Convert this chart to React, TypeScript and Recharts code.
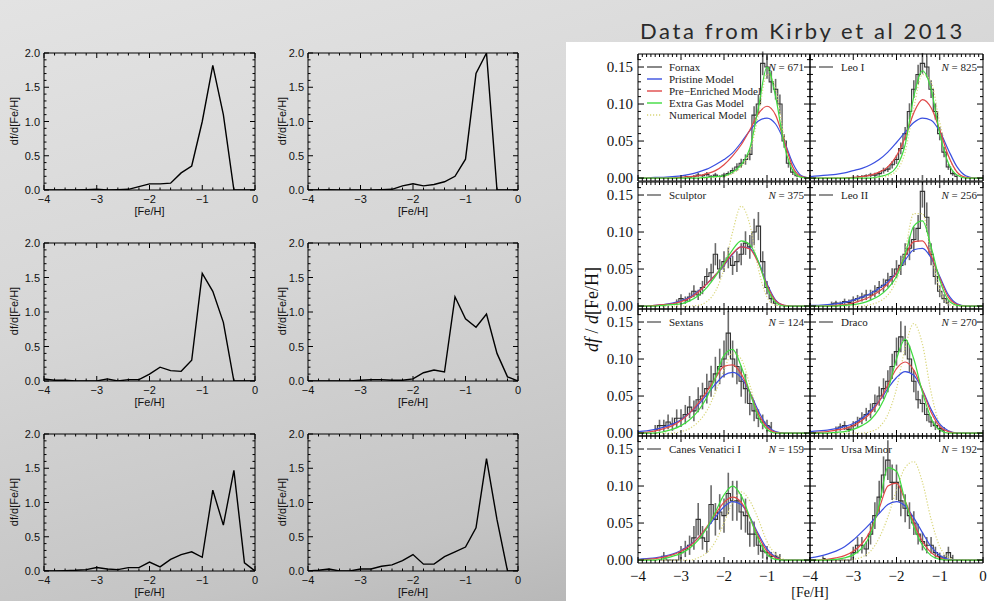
import React from 'react';
import { ComposedChart, Line, XAxis, YAxis, ErrorBar } from 'recharts';

// [Fe/H] grid shared by the simulated runs and the model curves
const FEH = [-4.0, -3.8, -3.6, -3.4, -3.2, -3.0, -2.8, -2.6, -2.4, -2.2, -2.0, -1.8, -1.6, -1.4, -1.2, -1.0, -0.8, -0.6, -0.4, -0.2, 0.0];

// left: six simulated MDFs
const RUN_1 = [0, 0, 0, 0, 0.005, 0.01, 0, 0.005, 0.01, 0.05, 0.09, 0.09, 0.1, 0.25, 0.35, 1.0, 1.82, 1.1, 0, 0, 0];
const RUN_2 = [0, 0, 0.005, 0, 0, 0, 0, 0.005, 0.01, 0.06, 0.09, 0.06, 0.08, 0.12, 0.2, 0.45, 1.7, 2.0, 0, 0, 0];
const RUN_3 = [0.03, 0.01, 0.01, 0, 0, 0, 0.03, 0, 0.02, 0.02, 0.1, 0.2, 0.15, 0.14, 0.3, 1.56, 1.3, 0.85, 0, 0, 0];
const RUN_4 = [0, 0, 0, 0, 0, 0.01, 0.02, 0.02, 0.01, 0.01, 0.03, 0.12, 0.16, 0.13, 1.22, 0.9, 0.78, 0.97, 0.4, 0.06, 0];
const RUN_5 = [0, 0, 0.005, 0.01, 0.02, 0.05, 0.03, 0.02, 0.05, 0.05, 0.13, 0.06, 0.17, 0.24, 0.28, 0.2, 1.18, 0.67, 1.47, 0.12, 0];
const RUN_6 = [0, 0.01, 0.03, 0, 0, 0.03, 0.03, 0.07, 0.09, 0.15, 0.24, 0.1, 0.1, 0.21, 0.28, 0.35, 0.63, 1.64, 0.75, 0, 0];
const RUNS = [RUN_1, RUN_2, RUN_3, RUN_4, RUN_5, RUN_6];

// right: Kirby et al. 2013 dwarfs
const DWARFS = ['Fornax', 'Leo I', 'Sculptor', 'Leo II', 'Sextans', 'Draco', 'Canes Venatici I', 'Ursa Minor'];
const DWARF_N = [671, 825, 375, 256, 124, 270, 159, 192];
const HIST_START = [-2.9, -2.9, -3.1, -3.5, -3.6, -3.4, -3.5, -3.7];
const HIST = [
  [0.002, 0.001, 0.002, 0.004, 0.003, 0.005, 0.002, 0.004, 0.002, 0.004, 0.006, 0.01, 0.015, 0.02, 0.025, 0.032, 0.085, 0.1, 0.155, 0.15, 0.13, 0.12, 0.1, 0.05, 0.02, 0.008, 0.003],
  [0.002, 0.002, 0.003, 0.004, 0.004, 0.006, 0.01, 0.012, 0.018, 0.025, 0.04, 0.06, 0.09, 0.12, 0.14, 0.155, 0.15, 0.12, 0.09, 0.06, 0.035, 0.015, 0.006, 0.002],
  [0.005, 0.01, 0.008, 0.012, 0.02, 0.015, 0.025, 0.04, 0.045, 0.07, 0.05, 0.06, 0.065, 0.055, 0.06, 0.07, 0.085, 0.08, 0.1, 0.108, 0.06, 0.025, 0.01, 0.004],
  [0.003, 0.004, 0.003, 0.006, 0.005, 0.008, 0.01, 0.012, 0.015, 0.015, 0.02, 0.025, 0.028, 0.035, 0.04, 0.05, 0.055, 0.07, 0.078, 0.09, 0.105, 0.155, 0.12, 0.07, 0.04, 0.02, 0.01, 0.004],
  [0.005, 0.01, 0.01, 0.015, 0.012, 0.02, 0.02, 0.025, 0.035, 0.03, 0.045, 0.05, 0.06, 0.07, 0.08, 0.09, 0.1, 0.135, 0.1, 0.09, 0.07, 0.06, 0.04, 0.03, 0.02, 0.015, 0.01, 0.008],
  [0.005, 0.008, 0.01, 0.005, 0.01, 0.015, 0.02, 0.025, 0.03, 0.04, 0.05, 0.06, 0.07, 0.09, 0.11, 0.13, 0.125, 0.1, 0.07, 0.045, 0.04, 0.025, 0.015, 0.01, 0.006, 0.004],
  [0, 0.005, 0, 0, 0, 0.01, 0.015, 0.02, 0.03, 0.055, 0.03, 0.025, 0.075, 0.055, 0.065, 0.06, 0.09, 0.08, 0.08, 0.065, 0.06, 0.035, 0.035, 0.02, 0.012, 0.01, 0.005, 0.005, 0.003],
  [0.002, 0, 0, 0, 0, 0, 0, 0.01, 0.02, 0.02, 0.015, 0.035, 0.06, 0.085, 0.115, 0.135, 0.105, 0.105, 0.08, 0.07, 0.06, 0.05, 0.035, 0.025, 0.02, 0.02, 0.01, 0.005, 0.003, 0.01, 0.003],
];
const HIST_ERR = [
  [0.002, 0.001, 0.002, 0.003, 0.002, 0.003, 0.002, 0.003, 0.002, 0.003, 0.003, 0.004, 0.005, 0.006, 0.007, 0.008, 0.012, 0.013, 0.016, 0.016, 0.015, 0.014, 0.013, 0.009, 0.006, 0.004, 0.002],
  [0.002, 0.002, 0.002, 0.003, 0.003, 0.003, 0.004, 0.004, 0.005, 0.006, 0.008, 0.009, 0.011, 0.012, 0.013, 0.014, 0.014, 0.012, 0.011, 0.009, 0.007, 0.004, 0.003, 0.002],
  [0.004, 0.006, 0.005, 0.006, 0.008, 0.007, 0.009, 0.011, 0.012, 0.015, 0.013, 0.014, 0.014, 0.013, 0.014, 0.015, 0.016, 0.016, 0.018, 0.019, 0.014, 0.009, 0.006, 0.004],
  [0.003, 0.003, 0.003, 0.004, 0.004, 0.005, 0.005, 0.006, 0.007, 0.007, 0.008, 0.009, 0.009, 0.01, 0.011, 0.012, 0.013, 0.015, 0.016, 0.017, 0.018, 0.022, 0.02, 0.015, 0.011, 0.008, 0.006, 0.004],
  [0.006, 0.008, 0.008, 0.01, 0.009, 0.012, 0.012, 0.013, 0.015, 0.014, 0.017, 0.018, 0.02, 0.021, 0.023, 0.024, 0.025, 0.03, 0.025, 0.024, 0.021, 0.02, 0.016, 0.014, 0.012, 0.01, 0.008, 0.007],
  [0.004, 0.005, 0.006, 0.004, 0.006, 0.007, 0.008, 0.009, 0.01, 0.012, 0.013, 0.014, 0.015, 0.017, 0.019, 0.021, 0.02, 0.018, 0.015, 0.012, 0.012, 0.009, 0.007, 0.006, 0.005, 0.004],
  [0, 0.006, 0, 0, 0, 0.009, 0.011, 0.013, 0.016, 0.022, 0.016, 0.015, 0.026, 0.022, 0.024, 0.023, 0.028, 0.027, 0.027, 0.024, 0.023, 0.017, 0.017, 0.013, 0.01, 0.009, 0.006, 0.006, 0.005],
  [0.003, 0, 0, 0, 0, 0, 0, 0.008, 0.011, 0.011, 0.01, 0.014, 0.018, 0.022, 0.025, 0.027, 0.024, 0.024, 0.021, 0.019, 0.018, 0.016, 0.014, 0.012, 0.011, 0.011, 0.008, 0.005, 0.004, 0.008, 0.004],
];
const PRISTINE = [
  [0, 0, 0.001, 0.001, 0.002, 0.003, 0.005, 0.008, 0.012, 0.018, 0.025, 0.034, 0.048, 0.064, 0.077, 0.081, 0.073, 0.05, 0.02, 0.003, 0],
  [0.002, 0.003, 0.004, 0.005, 0.007, 0.01, 0.013, 0.018, 0.025, 0.035, 0.048, 0.062, 0.075, 0.081, 0.078, 0.063, 0.038, 0.015, 0.003, 0, 0],
  [0, 0, 0.001, 0.002, 0.004, 0.007, 0.012, 0.02, 0.03, 0.042, 0.055, 0.07, 0.08, 0.078, 0.06, 0.03, 0.008, 0.001, 0, 0, 0],
  [0.001, 0.001, 0.002, 0.003, 0.005, 0.008, 0.012, 0.017, 0.024, 0.033, 0.045, 0.062, 0.076, 0.078, 0.065, 0.04, 0.015, 0.003, 0, 0, 0],
  [0.002, 0.003, 0.005, 0.008, 0.012, 0.018, 0.027, 0.038, 0.052, 0.066, 0.078, 0.082, 0.075, 0.055, 0.03, 0.01, 0.002, 0, 0, 0, 0],
  [0.002, 0.003, 0.004, 0.006, 0.009, 0.013, 0.02, 0.03, 0.043, 0.06, 0.075, 0.083, 0.078, 0.058, 0.032, 0.012, 0.003, 0, 0, 0, 0],
  [0.001, 0.002, 0.003, 0.005, 0.008, 0.013, 0.02, 0.03, 0.043, 0.058, 0.072, 0.079, 0.075, 0.058, 0.035, 0.015, 0.004, 0, 0, 0, 0],
  [0.003, 0.005, 0.008, 0.012, 0.018, 0.027, 0.038, 0.05, 0.063, 0.075, 0.079, 0.073, 0.057, 0.037, 0.018, 0.006, 0.001, 0, 0, 0, 0],
];
const PRE_ENRICHED = [
  [0, 0, 0, 0, 0, 0.001, 0.002, 0.003, 0.006, 0.01, 0.018, 0.03, 0.045, 0.065, 0.087, 0.097, 0.085, 0.05, 0.015, 0.002, 0],
  [0, 0, 0, 0, 0, 0.001, 0.002, 0.004, 0.008, 0.015, 0.03, 0.055, 0.088, 0.106, 0.095, 0.065, 0.03, 0.008, 0.001, 0, 0],
  [0, 0, 0.001, 0.002, 0.003, 0.006, 0.011, 0.019, 0.03, 0.042, 0.056, 0.071, 0.08, 0.077, 0.058, 0.028, 0.007, 0.001, 0, 0, 0],
  [0, 0, 0, 0.001, 0.002, 0.004, 0.008, 0.013, 0.02, 0.03, 0.045, 0.067, 0.087, 0.088, 0.068, 0.038, 0.012, 0.002, 0, 0, 0],
  [0, 0.001, 0.003, 0.006, 0.01, 0.017, 0.027, 0.04, 0.056, 0.074, 0.09, 0.092, 0.08, 0.055, 0.026, 0.008, 0.001, 0, 0, 0, 0],
  [0, 0.001, 0.002, 0.004, 0.006, 0.01, 0.017, 0.027, 0.043, 0.065, 0.087, 0.096, 0.085, 0.058, 0.028, 0.009, 0.002, 0, 0, 0, 0],
  [0, 0.001, 0.002, 0.004, 0.007, 0.012, 0.019, 0.03, 0.045, 0.062, 0.078, 0.085, 0.078, 0.057, 0.032, 0.012, 0.003, 0, 0, 0, 0],
  [0, 0, 0.001, 0.003, 0.006, 0.012, 0.022, 0.04, 0.07, 0.1, 0.104, 0.08, 0.05, 0.025, 0.01, 0.003, 0, 0, 0, 0, 0],
];
const EXTRA_GAS = [
  [0, 0, 0, 0, 0, 0, 0, 0, 0.001, 0.002, 0.003, 0.008, 0.018, 0.04, 0.095, 0.15, 0.11, 0.045, 0.01, 0.001, 0],
  [0, 0, 0, 0, 0, 0, 0, 0, 0.002, 0.005, 0.015, 0.045, 0.11, 0.145, 0.12, 0.06, 0.02, 0.004, 0, 0, 0],
  [0, 0, 0, 0.001, 0.002, 0.003, 0.007, 0.014, 0.025, 0.04, 0.058, 0.076, 0.088, 0.083, 0.06, 0.025, 0.005, 0, 0, 0, 0],
  [0, 0, 0, 0, 0.001, 0.002, 0.004, 0.008, 0.014, 0.024, 0.04, 0.07, 0.108, 0.115, 0.08, 0.035, 0.008, 0.001, 0, 0, 0],
  [0, 0, 0, 0.002, 0.005, 0.01, 0.018, 0.03, 0.048, 0.075, 0.105, 0.113, 0.09, 0.055, 0.022, 0.005, 0, 0, 0, 0, 0],
  [0, 0, 0, 0.001, 0.002, 0.005, 0.01, 0.018, 0.033, 0.058, 0.1, 0.127, 0.1, 0.055, 0.02, 0.004, 0, 0, 0, 0, 0],
  [0, 0, 0, 0.002, 0.005, 0.009, 0.016, 0.027, 0.043, 0.065, 0.088, 0.1, 0.087, 0.058, 0.028, 0.008, 0.001, 0, 0, 0, 0],
  [0, 0, 0, 0.001, 0.003, 0.007, 0.016, 0.035, 0.075, 0.125, 0.12, 0.08, 0.045, 0.02, 0.006, 0.001, 0, 0, 0, 0, 0],
];
const NUMERICAL = [
  [0, 0, 0, 0, 0, 0, 0, 0, 0, 0.001, 0.002, 0.006, 0.015, 0.035, 0.085, 0.14, 0.12, 0.055, 0.012, 0.001, 0],
  [0, 0, 0, 0, 0, 0, 0, 0, 0.001, 0.003, 0.01, 0.035, 0.095, 0.14, 0.13, 0.075, 0.03, 0.008, 0.001, 0, 0],
  [0, 0, 0, 0, 0, 0, 0, 0.001, 0.006, 0.02, 0.05, 0.1, 0.135, 0.11, 0.05, 0.012, 0.001, 0, 0, 0, 0],
  [0, 0, 0, 0, 0, 0, 0, 0.002, 0.006, 0.015, 0.035, 0.075, 0.125, 0.125, 0.07, 0.022, 0.003, 0, 0, 0, 0],
  [0, 0, 0, 0, 0, 0.002, 0.006, 0.015, 0.03, 0.055, 0.085, 0.108, 0.1, 0.065, 0.025, 0.005, 0, 0, 0, 0, 0],
  [0, 0, 0, 0, 0, 0, 0, 0.002, 0.008, 0.025, 0.06, 0.115, 0.148, 0.12, 0.055, 0.013, 0.002, 0, 0, 0, 0],
  [0, 0, 0, 0, 0, 0, 0, 0.003, 0.01, 0.025, 0.05, 0.078, 0.092, 0.08, 0.055, 0.025, 0.008, 0.001, 0, 0, 0],
  [0, 0, 0, 0, 0, 0.001, 0.004, 0.012, 0.03, 0.058, 0.095, 0.125, 0.133, 0.105, 0.055, 0.018, 0.004, 0, 0, 0, 0],
];

const BLUE = '#3a4fe0';
const RED = '#e04848';
const GREEN = '#3fdc3f';
const YELLOW = '#d9d67a';

const LEGEND = [
  { label: 'Fornax', color: '#555', dash: undefined },
  { label: 'Pristine Model', color: BLUE, dash: undefined },
  { label: 'Pre\u2212Enriched Model', color: RED, dash: undefined },
  { label: 'Extra Gas Model', color: GREEN, dash: undefined },
  { label: 'Numerical Model', color: YELLOW, dash: '1.2 1.8' },
];

const SERIF = '"Liberation Serif", "DejaVu Serif", serif';
const SANS = '"Liberation Sans", Arial, sans-serif';

const steps = (lo: number, hi: number, step: number) => {
  const out: number[] = [];
  const n = Math.round((hi - lo) / step);
  for (let i = 0; i <= n; i++) out.push(+(lo + i * step).toFixed(4));
  return out;
};

const minus = (v: number) => (v < 0 ? '\u2212' + Math.abs(v) : String(v));

type Side = 'bottom' | 'top' | 'left' | 'right';
interface TickOpts {
  major: number;
  big: number;
  small: number;
  fmt?: (v: number) => string;
  show?: (v: number) => boolean;
  font?: string;
  size?: number;
  gap?: number;
}

// ticks point into the frame, labels only on the majors
function inward(side: Side, o: TickOpts) {
  return (p: any) => {
    const v = Number(p.payload.value);
    const r = v / o.major;
    const isMajor = Math.abs(r - Math.round(r)) < 1e-6;
    const len = isMajor ? o.big : o.small;
    const { x, y } = p;
    let d = '';
    if (side === 'bottom') d = `M${x},${y}V${y - len}`;
    else if (side === 'top') d = `M${x},${y}V${y + len}`;
    else if (side === 'left') d = `M${x},${y}H${x + len}`;
    else d = `M${x},${y}H${x - len}`;
    const lab = isMajor && o.fmt && (!o.show || o.show(v));
    return (
      <g>
        <path d={d} stroke="#000" strokeWidth={1} fill="none" />
        {lab && side === 'bottom' && (
          <text x={x} y={y + (o.gap || 10)} textAnchor="middle" dominantBaseline="central" fontFamily={o.font} fontSize={o.size} fill="#111">
            {o.fmt!(v)}
          </text>
        )}
        {lab && side === 'left' && (
          <text x={x - (o.gap || 6)} y={y} textAnchor="end" dominantBaseline="central" fontFamily={o.font} fontSize={o.size} fill="#111">
            {o.fmt!(v)}
          </text>
        )}
      </g>
    );
  };
}

const PAD_L = 70;
const PAD_B = 40;
const PAD_T = 10;
const PAD_R = 14;

function Frame(props: {
  x: number; y: number; w: number; h: number;
  yDomain: [number, number];
  xTicks: number[]; yTicks: number[];
  xTick: TickOpts; yTick: TickOpts;
  children: React.ReactNode;
}) {
  const { x, y, w, h, yDomain, xTicks, yTicks, xTick, yTick, children } = props;
  const common = { type: 'number' as const, allowDataOverflow: true, interval: 0 as const, tickLine: false, tickSize: 0, tickMargin: 0, axisLine: { stroke: '#000' } };
  return (
    <div style={{ position: 'absolute', left: x - PAD_L, top: y - 1 - PAD_T }}>
      <ComposedChart width={PAD_L + w + 1 + PAD_R} height={PAD_T + 1 + h + PAD_B} margin={{ top: PAD_T, right: PAD_R, bottom: 0, left: 0 }}>
        <XAxis {...common} xAxisId="b" dataKey="x" domain={[-4, 0]} ticks={xTicks} height={PAD_B} tick={inward('bottom', xTick)} />
        <XAxis {...common} xAxisId="t" orientation="top" dataKey="x" domain={[-4, 0]} ticks={xTicks} height={1} tick={inward('top', { ...xTick, fmt: undefined })} />
        <YAxis {...common} yAxisId="l" domain={yDomain} ticks={yTicks} width={PAD_L} tick={inward('left', yTick)} />
        <YAxis {...common} yAxisId="r" orientation="right" domain={yDomain} ticks={yTicks} width={1} tick={inward('right', { ...yTick, fmt: undefined })} />
        {children}
      </ComposedChart>
    </div>
  );
}

// left-hand layout
const LEFT_COLS = [{ x: 44, w: 211 }, { x: 308, w: 210 }];
const LEFT_ROWS = [{ y: 53, h: 137 }, { y: 243, h: 138 }, { y: 434, h: 137 }];

function RunPanel({ idx }: { idx: number }) {
  const col = LEFT_COLS[idx % 2];
  const row = LEFT_ROWS[Math.floor(idx / 2)];
  const data = FEH.map((x, i) => ({ x, v: RUNS[idx][i] }));
  return (
    <>
      <Frame
        x={col.x} y={row.y} w={col.w} h={row.h}
        yDomain={[0, 2]}
        xTicks={steps(-4, 0, 0.2)} yTicks={steps(0, 2, 0.1)}
        xTick={{ major: 1, big: 5, small: 2.5, fmt: minus, font: SANS, size: 11, gap: 9 }}
        yTick={{ major: 0.5, big: 5, small: 2.5, fmt: (v) => v.toFixed(1), font: SANS, size: 11, gap: 4 }}
      >
        <Line xAxisId="b" yAxisId="l" data={data} dataKey="v" type="linear" stroke="#000" strokeWidth={1.4} dot={false} isAnimationActive={false} />
      </Frame>
      <div style={{ position: 'absolute', left: col.x, width: col.w, top: row.y + row.h + 15, textAlign: 'center', font: `11px ${SANS}`, color: '#111' }}>[Fe/H]</div>
      <div style={{ position: 'absolute', left: col.x - (idx % 2 ? 26 : 30) - 60, top: row.y + row.h / 2 - 7, width: 120, textAlign: 'center', font: `11px ${SANS}`, color: '#111', transform: 'rotate(-90deg)' }}>df/d[Fe/H]</div>
    </>
  );
}

// right-hand layout
const RIGHT_COLS = [{ x: 638, w: 172 }, { x: 810, w: 173 }];
const RIGHT_ROWS = [54, 182, 309, 436];
const RIGHT_H = 127;
const Y_DOMAIN: [number, number] = [-0.004, 0.1676];

function DwarfPanel({ idx }: { idx: number }) {
  const c = idx % 2;
  const r = Math.floor(idx / 2);
  const col = RIGHT_COLS[c];
  const top = RIGHT_ROWS[r];
  const hist = HIST[idx].map((h, i) => ({ x: +(HIST_START[idx] + 0.1 * i).toFixed(2), h, e: HIST_ERR[idx][i] }));
  const curve = (arr: number[]) => FEH.map((x, i) => ({ x, v: arr[i] }));
  const lineProps = { xAxisId: 'b', yAxisId: 'l', dataKey: 'v', type: 'monotone' as const, dot: false, isAnimationActive: false, strokeWidth: 1.2 };
  return (
    <Frame
      x={col.x} y={top} w={col.w} h={RIGHT_H}
      yDomain={Y_DOMAIN}
      xTicks={steps(-4, 0, 0.1)} yTicks={steps(0, 0.16, 0.01)}
      xTick={{ major: 1, big: 6, small: 3, fmt: r === 3 ? minus : undefined, show: (v) => c === 1 || v !== 0, font: SERIF, size: 15, gap: 13 }}
      yTick={{ major: 0.05, big: 6, small: 3, fmt: c === 0 ? (v) => v.toFixed(2) : undefined, font: SERIF, size: 15, gap: 5 }}
    >
      <Line xAxisId="b" yAxisId="l" data={hist} dataKey="h" type="step" stroke="#333" strokeWidth={1.1} dot={false} isAnimationActive={false}>
        <ErrorBar dataKey="e" width={0} stroke="#6a6a6a" strokeWidth={1.6} direction="y" />
      </Line>
      <Line {...lineProps} data={curve(NUMERICAL[idx])} stroke={YELLOW} strokeDasharray="1.2 1.8" />
      <Line {...lineProps} data={curve(PRISTINE[idx])} stroke={BLUE} />
      <Line {...lineProps} data={curve(PRE_ENRICHED[idx])} stroke={RED} />
      <Line {...lineProps} data={curve(EXTRA_GAS[idx])} stroke={GREEN} />
    </Frame>
  );
}

function DwarfLabels({ idx }: { idx: number }) {
  const c = idx % 2;
  const r = Math.floor(idx / 2);
  const col = RIGHT_COLS[c];
  const y = RIGHT_ROWS[r] + 13;
  const txt = { position: 'absolute' as const, font: `11px ${SERIF}`, color: '#222', whiteSpace: 'nowrap' as const, lineHeight: '12px' };
  return (
    <>
      {idx > 0 && (
        <svg style={{ position: 'absolute', left: col.x + 9, top: y - 2 }} width={16} height={4}>
          <line x1={0} y1={2} x2={14} y2={2} stroke="#555" strokeWidth={1.3} />
        </svg>
      )}
      {idx > 0 && <div style={{ ...txt, left: col.x + 31, top: y - 6 }}>{DWARFS[idx]}</div>}
      <div style={{ ...txt, right: 994 - (col.x + col.w - 6), top: y - 6 }}>
        <i>N</i> = {DWARF_N[idx]}
      </div>
    </>
  );
}

export default function App() {
  return (
    <div
      style={{
        position: 'fixed', left: 0, top: 0, width: 994, height: 601, overflow: 'hidden',
        background: 'linear-gradient(165deg, #e3e3e3 0%, #d6d6d6 40%, #c4c4c4 75%, #ababab 100%)',
      }}
    >
      <div style={{ position: 'absolute', left: 640, top: 17, font: `22px Lato, "Open Sans", sans-serif`, color: '#2a2a2a', letterSpacing: 2.6, whiteSpace: 'nowrap' }}>
        Data from Kirby et al 2013
      </div>
      <div style={{ position: 'absolute', left: 566, top: 42, width: 428, height: 559, background: '#fff' }} />

      {RUNS.map((_, i) => (
        <RunPanel key={i} idx={i} />
      ))}

      {DWARFS.map((_, i) => (
        <DwarfPanel key={i} idx={i} />
      ))}
      {DWARFS.map((_, i) => (
        <DwarfLabels key={'l' + i} idx={i} />
      ))}

      {/* legend inside the Fornax panel */}
      <svg style={{ position: 'absolute', left: 645, top: 60 }} width={20} height={62}>
        {LEGEND.map((l, i) => (
          <line key={l.label} x1={2} x2={17} y1={7 + i * 12} y2={7 + i * 12} stroke={l.color} strokeWidth={1.4} strokeDasharray={l.dash} />
        ))}
      </svg>
      {LEGEND.map((l, i) => (
        <div key={l.label} style={{ position: 'absolute', left: 669, top: 61 + i * 12, font: `11px ${SERIF}`, color: '#222', whiteSpace: 'nowrap', lineHeight: '12px' }}>
          {l.label}
        </div>
      ))}

      <div style={{ position: 'absolute', left: 592 - 60, top: 299, width: 120, textAlign: 'center', font: `18px ${SERIF}`, color: '#111', transform: 'rotate(-90deg)', whiteSpace: 'nowrap' }}>
        <i>df</i> / <i>d</i>[Fe/H]
      </div>
      <div style={{ position: 'absolute', left: 770, width: 80, top: 586, textAlign: 'center', font: `14px ${SERIF}`, color: '#111', lineHeight: '14px' }}>[Fe/H]</div>
    </div>
  );
}
